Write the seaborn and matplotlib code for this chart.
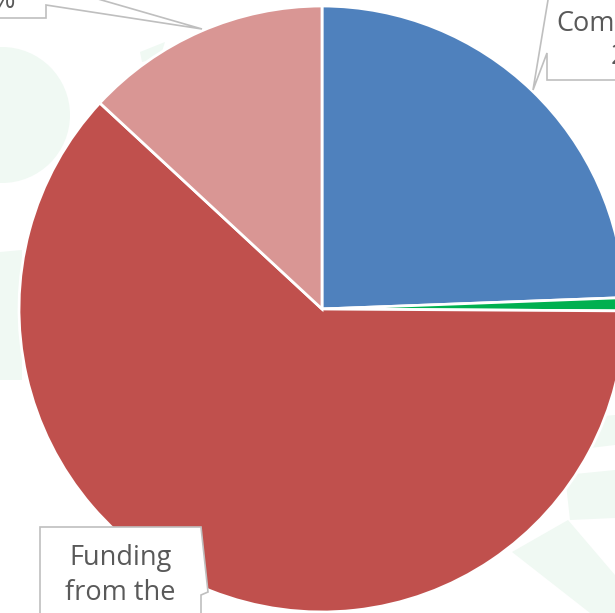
import matplotlib
matplotlib.use("Agg")
import matplotlib.pyplot as plt
from matplotlib.patches import Polygon, Circle
import seaborn as sns

# ---- data ----
categories = ["Community contributions", "Other income", "Funding from the Government", "Donations"]
shares = [24.4, 0.7, 61.8, 13.1]
colors = ["#4F81BD", "#00B050", "#C0504D", "#D99694"]

sns.set_theme(style="white")
plt.rcParams['font.family'] = ['Open Sans', 'DejaVu Sans']

fig = plt.figure(figsize=(6.15, 6.13), dpi=100)
ax = fig.add_axes([0, 0, 1, 1])

# faint watermark shapes in the background
wm = "#F0F9F3"
ax.add_patch(Circle((2, 115), 68, color=wm, zorder=0, lw=0))
ax.add_patch(Polygon([(0, 252), (22, 250), (22, 380), (0, 380)], closed=True, color=wm, zorder=0, lw=0))
ax.add_patch(Polygon([(140, 52), (165, 42), (160, 58), (142, 62)], closed=True, color=wm, zorder=0, lw=0))
ax.add_patch(Polygon([(560, 420), (615, 415), (615, 445), (590, 448)], closed=True, color=wm, zorder=0, lw=0))
ax.add_patch(Polygon([(565, 475), (615, 470), (615, 518), (570, 520)], closed=True, color=wm, zorder=0, lw=0))
ax.add_patch(Polygon([(512, 552), (568, 520), (615, 575), (615, 613), (590, 613)], closed=True, color=wm, zorder=0, lw=0))

ax.pie(shares, colors=colors, startangle=-90, counterclock=True,
       center=(322, 309), radius=303, frame=False,
       wedgeprops=dict(edgecolor="white", linewidth=2.0))

ax.set_xlim(0, 615)
ax.set_ylim(613, 0)
ax.set_aspect('auto')
ax.axis('off')

edge = "#BFBFBF"
txt = "#595959"
fs = 19.5

# top-left callout (Donations)
ax.add_patch(Polygon([(-60, -60), (-60, 18), (46, 18), (46, 5), (202, 29), (46, -16), (46, -60)],
                     closed=True, facecolor="white", edgecolor=edge, lw=1.2, zorder=5))
ax.text(16, 8, "13%", ha='right', va='baseline', fontsize=fs, color=txt, zorder=6)

# top-right callout (Community)
ax.add_patch(Polygon([(547, 80), (547, 53), (533, 90), (548, 0), (548, -40), (720, -40), (720, 80)],
                     closed=True, facecolor="white", edgecolor=edge, lw=1.2, zorder=5))
ax.text(556, 31, "Community", ha='left', va='baseline', fontsize=fs, color=txt, zorder=6)
ax.text(611, 64, "24%", ha='left', va='baseline', fontsize=fs, color=txt, zorder=6)

# bottom-left callout (Government)
ax.add_patch(Polygon([(40, 527), (201, 527), (208, 592), (201, 595), (201, 720), (40, 720)],
                     closed=True, facecolor="white", edgecolor=edge, lw=1.2, zorder=5))
ax.text(120, 565, "Funding", ha='center', va='baseline', fontsize=fs, color=txt, zorder=6)
ax.text(120, 600, "from the", ha='center', va='baseline', fontsize=fs, color=txt, zorder=6)
ax.text(120, 635, "Government", ha='center', va='baseline', fontsize=fs, color=txt, zorder=6)

fig.savefig("out.png", dpi=100)
